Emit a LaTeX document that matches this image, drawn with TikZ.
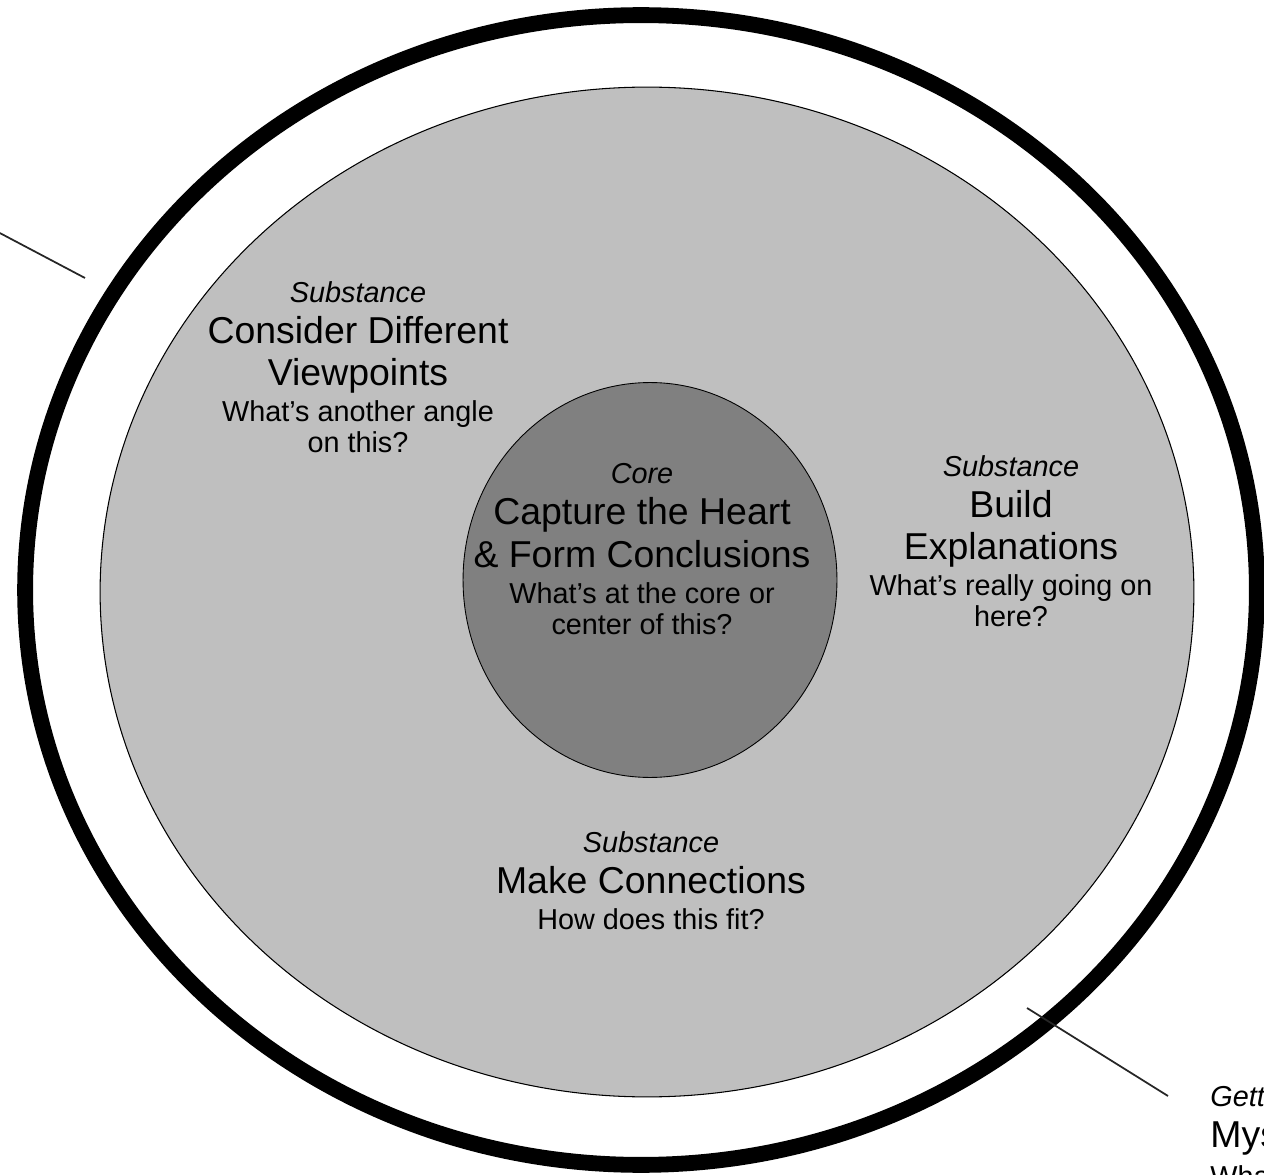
\documentclass[tikz,border=0pt]{standalone}
\usepackage{fontspec}
\setmainfont{Liberation Sans}
\usetikzlibrary{positioning}

\newcommand{\bigtxt}{\fontsize{21.3}{30}\selectfont}
\newcommand{\smalltxt}{\fontsize{16.4}{30}\selectfont}

\tikzset{
  group/.style={align=center, inner sep=0pt, font=\fontsize{16.4}{30}\selectfont},
  ringline/.style={line width=1pt, black!85}
}

\begin{document}
\begin{tikzpicture}[x=0.02cm, y=-0.02cm]
\useasboundingbox (0,0) rectangle (1264,1175);

% rings
\draw[line width=9pt] (641,590) ellipse [x radius=12.32cm, y radius=11.5cm];
\draw[fill=black!25, line width=0.6pt] (647,592) ellipse [x radius=10.94cm, y radius=10.1cm];
\draw[fill=black!50, line width=0.5pt] (650,580) ellipse [x radius=3.74cm, y radius=3.95cm];

% texts
\node[group] (view) at (358,367) {\smalltxt\textit{Substance}\\[-6.7pt] \bigtxt Consider Different\\[-5.8pt] \bigtxt Viewpoints\\[-9.5pt] \smalltxt What's another angle\\[-12.4pt] \smalltxt on this?};
\node[group] (core) at (642,549) {\smalltxt\textit{Core}\\[-6.7pt] \bigtxt Capture the Heart\\[-5.8pt] \bigtxt \& Form Conclusions\\[-9.5pt] \smalltxt What's at the core or\\[-12.4pt] \smalltxt center of this?};
\node[group] (build) at (1011,541) {\smalltxt\textit{Substance}\\[-6.7pt] \bigtxt Build\\[-5.8pt] \bigtxt Explanations\\[-9.5pt] \smalltxt What's really going on\\[-12.4pt] \smalltxt here?};
\node[group] (make) at (651,881) {\smalltxt\textit{Substance}\\[-6.7pt] \bigtxt Make Connections\\[-9.5pt] \smalltxt How does this fit?};
\node[group, align=left, anchor=north west] (myst) at (1210,1086) {\smalltxt\textit{Gett}\\[-6.5pt] \bigtxt Mys\\[-8pt] \smalltxt Wha};

% pointers
\coordinate (tl) at (-40,212);
\coordinate (tlend) at (85,278);
\coordinate (br) at (1027,1008);
\coordinate (brend) at (1168,1096);
\draw[ringline] (tl) -- (tlend);
\draw[ringline] (br) -- (brend);
\end{tikzpicture}
\end{document}
